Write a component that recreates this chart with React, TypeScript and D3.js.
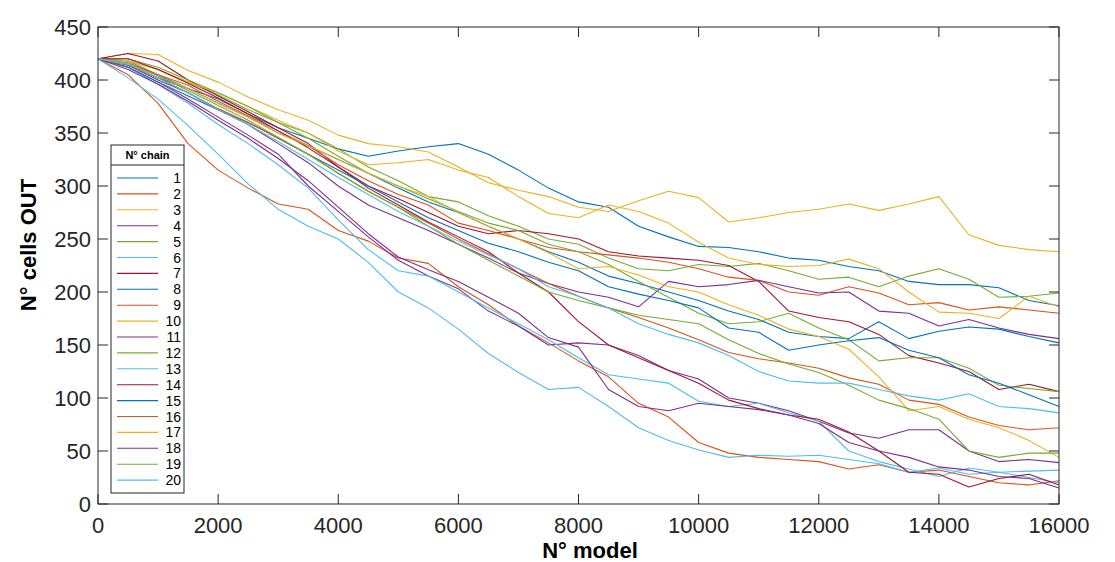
import React from 'react';
import * as d3 from 'd3';

// x grid (N° model), one sample every 500 models
const modelSteps = [
  0, 500, 1000, 1500, 2000, 2500, 3000, 3500, 4000, 4500, 5000, 5500, 6000, 6500, 7000, 7500,
  8000, 8500, 9000, 9500, 10000, 10500, 11000, 11500, 12000, 12500, 13000, 13500, 14000, 14500,
  15000, 15500, 16000,
];

// N° cells OUT for each chain
const chain1 = [420, 415, 402, 392, 382, 368, 355, 345, 335, 328, 333, 337, 340, 330, 315, 298, 285, 280, 262, 252, 243, 242, 238, 232, 230, 224, 220, 210, 207, 207, 204, 192, 187];
const chain2 = [420, 405, 378, 340, 315, 298, 283, 278, 258, 248, 232, 227, 205, 188, 168, 152, 135, 120, 95, 82, 58, 48, 44, 42, 40, 33, 37, 30, 32, 26, 20, 18, 22];
const chain3 = [420, 425, 424, 409, 398, 384, 372, 362, 348, 340, 337, 332, 318, 303, 296, 290, 280, 276, 286, 295, 289, 266, 270, 275, 278, 283, 277, 283, 290, 254, 244, 240, 238];
const chain4 = [420, 412, 398, 382, 365, 348, 330, 300, 276, 252, 230, 215, 203, 182, 168, 150, 152, 150, 140, 126, 118, 100, 95, 88, 78, 67, 62, 70, 70, 50, 40, 42, 39];
const chain5 = [420, 418, 410, 398, 386, 372, 360, 350, 335, 318, 305, 290, 285, 272, 262, 250, 245, 232, 222, 220, 226, 224, 227, 220, 212, 214, 205, 215, 222, 212, 195, 196, 199];
const chain6 = [420, 402, 382, 357, 330, 302, 278, 262, 250, 228, 200, 185, 165, 142, 124, 108, 110, 92, 72, 60, 51, 44, 46, 45, 46, 42, 38, 30, 34, 28, 30, 25, 20];
const chain7 = [420, 425, 418, 400, 385, 370, 355, 340, 318, 300, 288, 275, 262, 255, 258, 255, 250, 238, 234, 232, 230, 225, 210, 182, 176, 172, 160, 140, 133, 125, 108, 113, 106];
const chain8 = [420, 416, 405, 392, 378, 365, 350, 338, 325, 312, 298, 285, 275, 262, 250, 238, 228, 215, 208, 200, 192, 182, 174, 162, 158, 156, 172, 156, 163, 167, 165, 158, 152];
const chain9 = [420, 418, 405, 395, 380, 366, 352, 338, 320, 305, 292, 282, 265, 258, 250, 242, 238, 235, 232, 228, 222, 214, 211, 200, 197, 205, 199, 188, 190, 183, 186, 183, 180];
const chain10 = [420, 418, 410, 398, 388, 375, 362, 350, 333, 320, 322, 325, 315, 308, 290, 274, 270, 282, 276, 265, 247, 232, 226, 224, 225, 231, 222, 200, 181, 180, 175, 196, 186];
const chain11 = [420, 414, 400, 388, 372, 358, 340, 322, 300, 282, 270, 258, 245, 232, 218, 208, 200, 195, 186, 210, 205, 207, 211, 205, 199, 200, 182, 180, 168, 174, 166, 160, 156];
const chain12 = [420, 420, 412, 400, 388, 375, 360, 345, 328, 312, 300, 288, 276, 265, 258, 245, 238, 226, 210, 195, 180, 170, 172, 180, 166, 155, 135, 138, 138, 128, 112, 109, 106];
const chain13 = [420, 412, 396, 378, 358, 340, 320, 298, 268, 240, 220, 215, 200, 185, 170, 155, 138, 122, 118, 114, 97, 92, 95, 86, 78, 50, 40, 33, 26, 34, 30, 31, 32];
const chain14 = [420, 420, 410, 397, 383, 368, 352, 336, 318, 298, 282, 266, 252, 238, 218, 200, 172, 150, 138, 126, 114, 98, 90, 84, 80, 68, 50, 30, 28, 16, 24, 28, 18];
const chain15 = [420, 412, 398, 385, 372, 360, 345, 330, 315, 300, 285, 270, 258, 246, 238, 228, 220, 205, 198, 192, 185, 166, 162, 145, 150, 154, 157, 145, 138, 122, 114, 103, 92];
const chain16 = [420, 414, 402, 388, 373, 360, 345, 330, 312, 295, 280, 265, 250, 236, 222, 208, 196, 185, 176, 166, 155, 143, 137, 133, 128, 119, 113, 98, 94, 82, 74, 70, 72];
const chain17 = [420, 415, 404, 392, 378, 365, 350, 338, 325, 312, 300, 290, 275, 262, 250, 237, 222, 224, 216, 205, 200, 188, 178, 165, 158, 146, 120, 88, 92, 80, 72, 60, 44];
const chain18 = [420, 410, 396, 380, 362, 345, 326, 305, 280, 255, 233, 221, 210, 195, 180, 157, 148, 108, 92, 88, 95, 92, 89, 84, 76, 58, 50, 44, 35, 32, 26, 24, 15];
const chain19 = [420, 416, 404, 390, 376, 362, 346, 330, 312, 295, 280, 262, 245, 230, 215, 200, 192, 185, 178, 174, 170, 155, 142, 132, 124, 112, 98, 90, 80, 50, 44, 48, 48];
const chain20 = [420, 415, 402, 388, 372, 358, 342, 325, 308, 292, 276, 262, 248, 235, 222, 205, 196, 185, 170, 160, 152, 140, 125, 116, 114, 114, 108, 102, 98, 104, 92, 90, 86];

const chains = [
  chain1, chain2, chain3, chain4, chain5, chain6, chain7, chain8, chain9, chain10,
  chain11, chain12, chain13, chain14, chain15, chain16, chain17, chain18, chain19, chain20,
];
const chainNames = chains.map((_, i) => String(i + 1));

const xTicks = [0, 2000, 4000, 6000, 8000, 10000, 12000, 14000, 16000];
const yTicks = [0, 50, 100, 150, 200, 250, 300, 350, 400, 450];

// matlab default line colour order
const palette = ['#0072BD', '#D95319', '#EDB120', '#7E2F8E', '#77AC30', '#4DBEEE', '#A2142F'];

const W = 1115;
const H = 562;
const plot = { left: 98, right: 1059, top: 27, bottom: 504 };
const axisColor = '#262626';
const font = '"Liberation Sans", Arial, Helvetica, sans-serif';

export default function App() {
  const x = d3.scaleLinear().domain([0, 16000]).range([plot.left, plot.right]);
  const y = d3.scaleLinear().domain([0, 450]).range([plot.bottom, plot.top]);

  const line = d3
    .line<number>()
    .x((_, i) => x(modelSteps[i]))
    .y((d) => y(d));

  const tick = 10;
  const legend = { x: 111, y: 145, w: 73, headH: 20, rowH: 15.9 };

  return (
    <svg
      width={W}
      height={H}
      style={{ position: 'absolute', left: 0, top: 0, background: '#fff' }}
      fontFamily={font}
    >
      <rect x={0} y={0} width={W} height={H} fill="#fff" />

      {/* data */}
      <g fill="none" strokeWidth={1.1} strokeLinejoin="round">
        {chains.map((c, i) => (
          <path key={i} d={line(c) || ''} stroke={palette[i % palette.length]} />
        ))}
      </g>

      {/* box + ticks */}
      <g stroke={axisColor} strokeWidth={1}>
        <rect
          x={plot.left}
          y={plot.top}
          width={plot.right - plot.left}
          height={plot.bottom - plot.top}
          fill="none"
        />
        {xTicks.map((t) => (
          <g key={'x' + t}>
            <line x1={x(t)} x2={x(t)} y1={plot.bottom} y2={plot.bottom - tick} />
            <line x1={x(t)} x2={x(t)} y1={plot.top} y2={plot.top + tick} />
          </g>
        ))}
        {yTicks.map((t) => (
          <g key={'y' + t}>
            <line x1={plot.left} x2={plot.left + tick} y1={y(t)} y2={y(t)} />
            <line x1={plot.right} x2={plot.right - tick} y1={y(t)} y2={y(t)} />
          </g>
        ))}
      </g>

      <g fill={axisColor} fontSize={22}>
        {xTicks.map((t) => (
          <text key={'xl' + t} x={x(t)} y={533} textAnchor="middle">
            {t}
          </text>
        ))}
        {yTicks.map((t) => (
          <text key={'yl' + t} x={91} y={y(t)} dy="0.36em" textAnchor="end">
            {t}
          </text>
        ))}
      </g>

      <text x={590} y={558} textAnchor="middle" fontSize={22} fontWeight="bold" fill="#000">
        N° model
      </text>
      <text
        transform="translate(36,245) rotate(-90)"
        textAnchor="middle"
        fontSize={22}
        fontWeight="bold"
        fill="#000"
      >
        N° cells OUT
      </text>

      {/* legend */}
      <g>
        <rect
          x={legend.x}
          y={legend.y}
          width={legend.w}
          height={legend.headH + 20 * legend.rowH + 10}
          fill="#fff"
          stroke={axisColor}
          strokeWidth={1}
        />
        <line
          x1={legend.x}
          x2={legend.x + legend.w}
          y1={legend.y + legend.headH}
          y2={legend.y + legend.headH}
          stroke={axisColor}
        />
        <text
          x={legend.x + legend.w / 2}
          y={legend.y + 14}
          textAnchor="middle"
          fontSize={11}
          fontWeight="bold"
          fill="#000"
        >
          N° chain
        </text>
        {chainNames.map((name, i) => {
          const ly = legend.y + 33 + i * legend.rowH;
          return (
            <g key={name}>
              <line x1={117} x2={158} y1={ly} y2={ly} stroke={palette[i % palette.length]} strokeWidth={1.1} />
              <text x={181} y={ly} dy="0.36em" textAnchor="end" fontSize={14} fill="#000">
                {name}
              </text>
            </g>
          );
        })}
      </g>
    </svg>
  );
}
